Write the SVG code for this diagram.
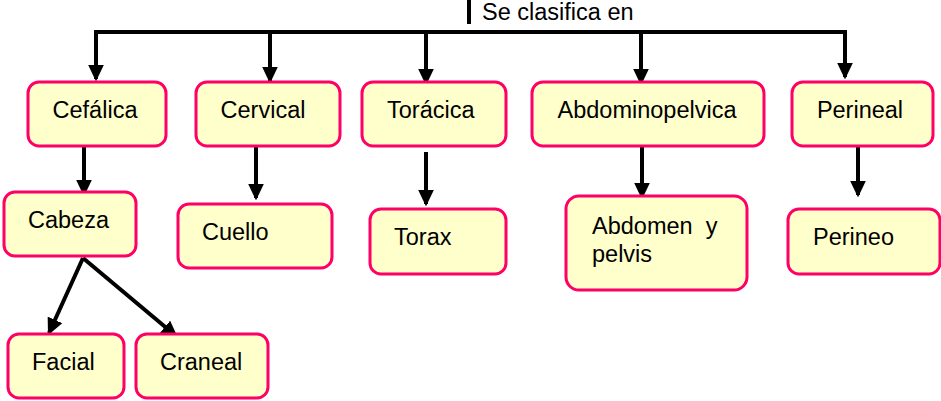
<svg xmlns="http://www.w3.org/2000/svg" width="941" height="401" viewBox="0 0 941 401">
<style>
.box{fill:#FFFFCC;stroke:#FF0066;stroke-width:3}
.t{font-family:"Liberation Sans",Arial,sans-serif;font-size:23.5px;fill:#000}
.c{stroke:#000;stroke-width:4;fill:none}
</style>
<defs>
<marker id="ah" markerWidth="4.2" markerHeight="4" refX="3.6" refY="2" orient="auto" markerUnits="strokeWidth">
<path d="M0,0 L4.2,2 L0,4 Z" fill="#000"/>
</marker>
</defs>
<rect width="941" height="401" fill="#fff"/>
<g id="connectors">
<line x1="469" y1="0" x2="469" y2="24" style="stroke:#000;stroke-width:4"/>
<line class="c" x1="94" y1="32" x2="847" y2="32"/>
<line class="c" x1="96" y1="32" x2="96" y2="79" marker-end="url(#ah)"/>
<line class="c" x1="270" y1="32" x2="270" y2="81" marker-end="url(#ah)"/>
<line class="c" x1="426" y1="32" x2="426" y2="83" marker-end="url(#ah)"/>
<line class="c" x1="641" y1="32" x2="641" y2="83" marker-end="url(#ah)"/>
<line class="c" x1="845" y1="32" x2="845" y2="77" marker-end="url(#ah)"/>
<line class="c" x1="84" y1="146" x2="84" y2="194" marker-end="url(#ah)"/>
<line class="c" x1="256" y1="146" x2="256" y2="198" marker-end="url(#ah)"/>
<line class="c" x1="426" y1="152" x2="426" y2="204" marker-end="url(#ah)"/>
<line class="c" x1="642" y1="146" x2="642" y2="197" marker-end="url(#ah)"/>
<line class="c" x1="858" y1="145" x2="858" y2="195" marker-end="url(#ah)"/>
<line class="c" x1="83" y1="258" x2="49" y2="333" marker-end="url(#ah)"/>
<line class="c" x1="83" y1="258" x2="176" y2="336" marker-end="url(#ah)"/>
</g>
<text class="t" x="482" y="20">Se clasifica en</text>
<g id="cefalica"><rect class="box" x="28" y="82" width="138" height="64" rx="11"/><text class="t" x="95" y="118" text-anchor="middle">Cefálica</text></g>
<g id="cervical"><rect class="box" x="196" y="82" width="144" height="64" rx="11"/><text class="t" x="263" y="118" text-anchor="middle">Cervical</text></g>
<g id="toracica"><rect class="box" x="362" y="82" width="144" height="64" rx="11"/><text class="t" x="387" y="118">Torácica</text></g>
<g id="abdominopelvica"><rect class="box" x="532" y="82" width="232" height="64" rx="11"/><text class="t" x="647" y="118" text-anchor="middle">Abdominopelvica</text></g>
<g id="perineal"><rect class="box" x="792" y="82" width="141" height="64" rx="11"/><text class="t" x="860" y="118" text-anchor="middle">Perineal</text></g>
<g id="cabeza"><rect class="box" x="4" y="192" width="132" height="64" rx="11"/><text class="t" x="28" y="228">Cabeza</text></g>
<g id="cuello"><rect class="box" x="178" y="204" width="154" height="64" rx="11"/><text class="t" x="202" y="240">Cuello</text></g>
<g id="torax"><rect class="box" x="370" y="209" width="136" height="65" rx="11"/><text class="t" x="394" y="245">Torax</text></g>
<g id="abdomen"><rect class="box" x="566" y="196" width="181" height="94" rx="13"/><text class="t" x="592" y="234" xml:space="preserve">Abdomen  y</text><text class="t" x="592" y="262">pelvis</text></g>
<g id="perineo"><rect class="box" x="788" y="209" width="152" height="65" rx="11"/><text class="t" x="813" y="245">Perineo</text></g>
<g id="facial"><rect class="box" x="8" y="334" width="116" height="64" rx="11"/><text class="t" x="32" y="370">Facial</text></g>
<g id="craneal"><rect class="box" x="136" y="334" width="132" height="64" rx="11"/><text class="t" x="160" y="370">Craneal</text></g>
</svg>
